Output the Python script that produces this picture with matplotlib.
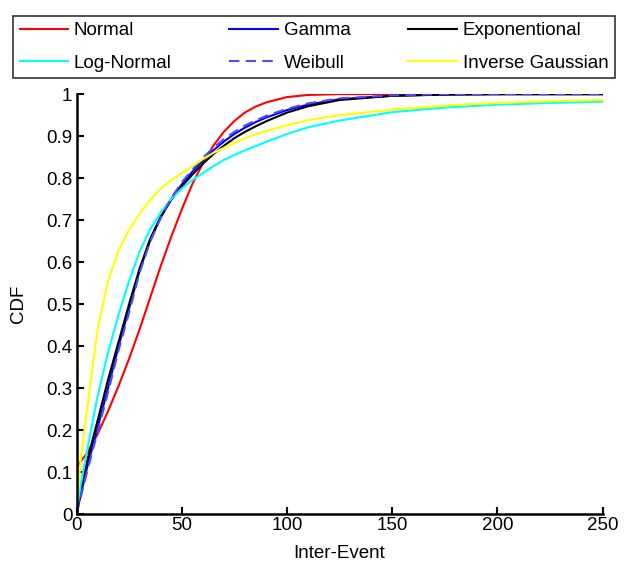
import matplotlib
matplotlib.use("Agg")
import matplotlib.pyplot as plt
from matplotlib.ticker import FixedLocator, FixedFormatter

plt.rcParams['font.family'] = ['Liberation Sans', 'DejaVu Sans']

x = [0, 2, 5, 10, 15, 20, 25, 30, 35, 40, 45, 50, 55, 60, 65, 70, 75, 80, 85,
     90, 100, 110, 125, 150, 175, 200, 225, 250]

normal = [0.11, 0.125, 0.145, 0.19, 0.245, 0.305, 0.37, 0.44, 0.515, 0.59,
          0.66, 0.725, 0.785, 0.835, 0.877, 0.91, 0.936, 0.956, 0.97, 0.98,
          0.993, 0.998, 1.0, 1.0, 1.0, 1.0, 1.0, 1.0]
gamma = [0.0, 0.045, 0.11, 0.205, 0.30, 0.40, 0.49, 0.58, 0.652, 0.706,
         0.75, 0.785, 0.815, 0.842, 0.866, 0.887, 0.905, 0.92, 0.933, 0.944,
         0.962, 0.975, 0.988, 0.996, 0.999, 1.0, 1.0, 1.0]
exponential = [0.0, 0.06, 0.125, 0.222, 0.32, 0.41, 0.50, 0.585, 0.655, 0.708,
               0.748, 0.78, 0.808, 0.834, 0.857, 0.877, 0.895, 0.91, 0.923,
               0.935, 0.956, 0.971, 0.986, 0.996, 0.999, 1.0, 1.0, 1.0]
lognormal = [0.0, 0.07, 0.15, 0.28, 0.385, 0.475, 0.555, 0.625, 0.678, 0.718,
             0.75, 0.775, 0.795, 0.812, 0.828, 0.843, 0.855, 0.866, 0.876,
             0.886, 0.905, 0.921, 0.937, 0.957, 0.968, 0.975, 0.979, 0.982]
weibull = [0.0, 0.04, 0.10, 0.195, 0.29, 0.39, 0.48, 0.575, 0.648, 0.705,
           0.752, 0.79, 0.82, 0.848, 0.872, 0.893, 0.91, 0.925, 0.937, 0.948,
           0.965, 0.978, 0.99, 0.997, 1.0, 1.0, 1.0, 1.0]
invgauss = [0.0, 0.13, 0.25, 0.44, 0.555, 0.628, 0.677, 0.715, 0.748, 0.775,
            0.795, 0.812, 0.828, 0.845, 0.86, 0.872, 0.884, 0.895, 0.904,
            0.912, 0.926, 0.938, 0.95, 0.963, 0.973, 0.979, 0.983, 0.986]

xticks = [0, 50, 100, 150, 200, 250]
yticks = [0, 0.1, 0.2, 0.3, 0.4, 0.5, 0.6, 0.7, 0.8, 0.9, 1.0]
ytick_labels = ['0', '0.1', '0.2', '0.3', '0.4', '0.5', '0.6', '0.7', '0.8', '0.9', '1']

fig = plt.figure(figsize=(6.25, 5.74), dpi=100)
ax = fig.add_axes([0.1224, 0.1045, 0.8416, 0.7315])

lw = 1.5
h1, = ax.plot(x, normal, color='#ff0000', lw=lw, label='Normal')
h2, = ax.plot(x, gamma, color='#0000ff', lw=lw, label='Gamma')
h3, = ax.plot(x, exponential, color='#000000', lw=lw, label='Exponentional')
h4, = ax.plot(x, lognormal, color='#00ffff', lw=lw, label='Log-Normal')
h5, = ax.plot(x, weibull, color='#4b4bff', lw=lw, ls=(0, (5, 3)), label='Weibull')
h6, = ax.plot(x, invgauss, color='#ffff00', lw=lw, label='Inverse Gaussian')

ax.set_xlim(0, 250)
ax.set_ylim(0, 1)
ax.xaxis.set_major_locator(FixedLocator(xticks))
ax.yaxis.set_major_locator(FixedLocator(yticks))
ax.yaxis.set_major_formatter(FixedFormatter(ytick_labels))
ax.spines['top'].set_visible(False)
ax.spines['right'].set_visible(False)
for s in ('left', 'bottom'):
    ax.spines[s].set_linewidth(1.8)
ax.tick_params(direction='in', length=5, width=1.5, labelsize=13.5, pad=2)
ax.tick_params(axis='y', pad=3)
ax.set_xlabel('Inter-Event', fontsize=13.5, labelpad=8)
ax.set_ylabel('CDF', fontsize=13.5, labelpad=14)

leg = fig.legend([h1, h4, h2, h5, h3, h6],
                 ['Normal', 'Log-Normal', 'Gamma', 'Weibull', 'Exponentional', 'Inverse Gaussian'],
                 loc='lower left', bbox_to_anchor=(0.0208, 0.864, 0.963, 0.112),
                 mode='expand', ncol=3, fontsize=13.5, frameon=True, fancybox=False,
                 borderaxespad=0, handlelength=2.6, handletextpad=0.3,
                 labelspacing=0.8, borderpad=0.35)
leg.get_frame().set_edgecolor('black')
leg.get_frame().set_linewidth(1.2)

fig.savefig('out.png', dpi=100)
